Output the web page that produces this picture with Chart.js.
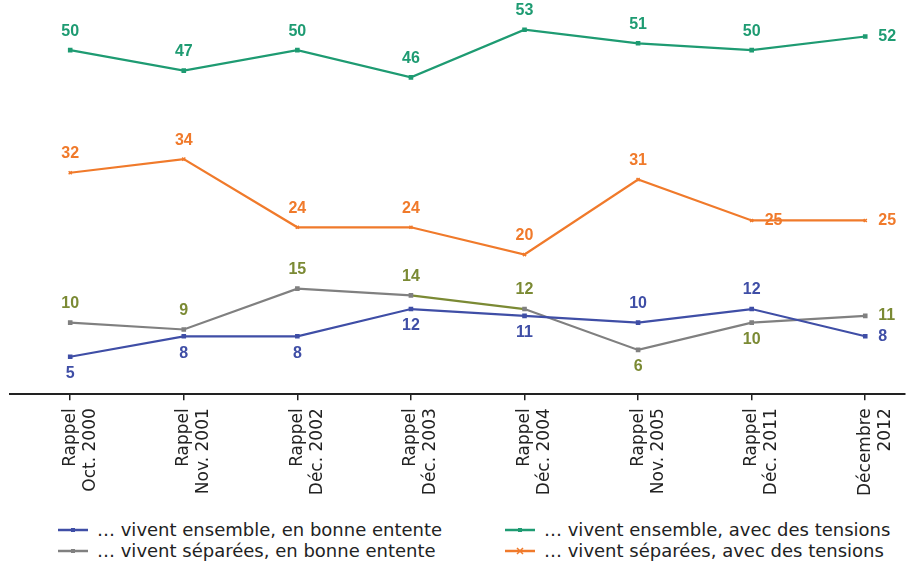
<!DOCTYPE html>
<html>
<head>
<meta charset="utf-8">
<script src="https://cdn.jsdelivr.net/npm/chart.js@4.4.0/dist/chart.umd.min.js"></script>
<style>
  html, body { margin: 0; padding: 0; background: #fff; }
  #wrap { position: relative; width: 916px; height: 561px; }
  #chartBox { position: absolute; left: 0; top: 0; width: 916px; height: 504px; }
  .leg { position: absolute; font-family: "DejaVu Sans", sans-serif; font-size: 18px; color: #222; white-space: nowrap; line-height: 20px; }
  .leg canvas { vertical-align: middle; margin-right: 9px; position: relative; top: -1px; }
</style>
</head>
<body>
<div id="wrap">
  <div id="chartBox"><canvas id="lineChart"></canvas></div>
  <div id="legend"></div>
</div>
<script>
// categories (two-line tick labels)
const categories = [
  ["Rappel", "Oct. 2000"],
  ["Rappel", "Nov. 2001"],
  ["Rappel", "Déc. 2002"],
  ["Rappel", "Déc. 2003"],
  ["Rappel", "Déc. 2004"],
  ["Rappel", "Nov. 2005"],
  ["Rappel", "Déc. 2011"],
  ["Décembre", "2012"]
];

// series values
const ensembleBonne   = [5, 8, 8, 12, 11, 10, 12, 8];
const ensembleTension = [50, 47, 50, 46, 53, 51, 50, 52];
const separeesBonne   = [10, 9, 15, 14, 12, 6, 10, 11];
const separeesTension = [32, 34, 24, 24, 20, 31, 25, 25];

const seriesNames = [
  "… vivent ensemble, en bonne entente",
  "… vivent ensemble, avec des tensions",
  "… vivent séparées, en bonne entente",
  "… vivent séparées, avec des tensions"
];

// where each value label goes: a = above, b = below, r = right
const labelPlace = [
  ["b", "b", "b", "b", "b", "a", "a", "r"],
  ["a", "a", "a", "a", "a", "a", "a", "r"],
  ["a", "a", "a", "a", "a", "b", "b", "r"],
  ["a", "a", "a", "a", "a", "a", "r", "r"]
];

const BLUE = "#3f4ea6";
const GREEN = "#1e9b72";
const GREY = "#808080";
const OLIVE = "#7b8a34";
const ORANGE = "#f07a2b";

const toPoints = arr => arr.map((v, i) => ({ x: i, y: v }));

const datasets = [
  { label: seriesNames[0], data: toPoints(ensembleBonne), borderColor: BLUE, backgroundColor: BLUE, pointStyle: "rect", labelColor: BLUE },
  { label: seriesNames[1], data: toPoints(ensembleTension), borderColor: GREEN, backgroundColor: GREEN, pointStyle: "rect", labelColor: GREEN },
  { label: seriesNames[2], data: toPoints(separeesBonne), borderColor: GREY, backgroundColor: GREY, pointStyle: "rect", labelColor: OLIVE,
    segment: { borderColor: c => c.p0DataIndex === 3 ? OLIVE : undefined } },
  { label: seriesNames[3], data: toPoints(separeesTension), borderColor: ORANGE, backgroundColor: ORANGE, pointStyle: "crossRot", labelColor: ORANGE }
].map(d => Object.assign({ borderWidth: 2.2, pointRadius: 2.2, pointBorderWidth: 1.5, tension: 0, fill: false }, d));

// draws the numbers next to every point
const valueLabels = {
  id: "valueLabels",
  afterDatasetsDraw(chart) {
    const ctx = chart.ctx;
    ctx.save();
    ctx.font = "bold 16px 'Liberation Sans', Arial, sans-serif";
    ctx.textBaseline = "middle";
    chart.data.datasets.forEach((ds, di) => {
      const meta = chart.getDatasetMeta(di);
      meta.data.forEach((pt, i) => {
        const place = labelPlace[di][i];
        let x = pt.x, y = pt.y;
        ctx.textAlign = "center";
        if (place === "a") y -= 19;
        else if (place === "b") y += 17;
        else { ctx.textAlign = "left"; x += 13; }
        ctx.fillStyle = ds.labelColor;
        ctx.fillText(String(ds.data[i].y), x, y);
      });
    });
    ctx.restore();
  }
};

new Chart(document.getElementById("lineChart"), {
  type: "line",
  data: { datasets: datasets },
  plugins: [valueLabels],
  options: {
    responsive: true,
    maintainAspectRatio: false,
    animation: false,
    layout: { padding: { left: 10, right: 11, top: 0, bottom: 0 } },
    scales: {
      x: {
        type: "linear",
        min: -0.53,
        max: 7.35,
        border: { display: true, color: "#222", width: 2 },
        grid: { drawOnChartArea: false, drawTicks: true, tickLength: 6, color: "#222", lineWidth: 1.5 },
        ticks: {
          stepSize: 1,
          includeBounds: false,
          autoSkip: false,
          maxRotation: 90,
          minRotation: 90,
          padding: 8,
          color: "#222",
          font: { family: "'DejaVu Sans', sans-serif", size: 17, lineHeight: 1.18 },
          callback: v => Number.isInteger(v) && categories[v] ? categories[v] : ""
        }
      },
      y: { display: false, min: -0.5, max: 56.55 }
    },
    plugins: {
      legend: { display: false },
      tooltip: { enabled: false }
    }
  }
});

// legend laid out in two columns like the original
const legendSpots = [
  { left: 58, top: 520 }, { left: 505, top: 520 },
  { left: 58, top: 541 }, { left: 505, top: 541 }
];
const legendOrder = [0, 1, 2, 3];
const legendEl = document.getElementById("legend");
legendOrder.forEach((di, k) => {
  const ds = datasets[di];
  const div = document.createElement("div");
  div.className = "leg";
  div.style.left = legendSpots[k].left + "px";
  div.style.top = legendSpots[k].top + "px";
  const sw = document.createElement("canvas");
  sw.width = 30; sw.height = 10;
  const c = sw.getContext("2d");
  c.strokeStyle = ds.borderColor; c.lineWidth = 2.5;
  c.beginPath(); c.moveTo(0, 5); c.lineTo(30, 5); c.stroke();
  c.fillStyle = ds.borderColor;
  if (ds.pointStyle === "crossRot") {
    c.lineWidth = 1.5;
    c.beginPath(); c.moveTo(12, 2); c.lineTo(18, 8); c.moveTo(18, 2); c.lineTo(12, 8); c.stroke();
  } else {
    c.fillRect(13, 3, 4, 4);
  }
  div.appendChild(sw);
  div.appendChild(document.createTextNode(ds.label));
  legendEl.appendChild(div);
});
</script>
</body>
</html>
